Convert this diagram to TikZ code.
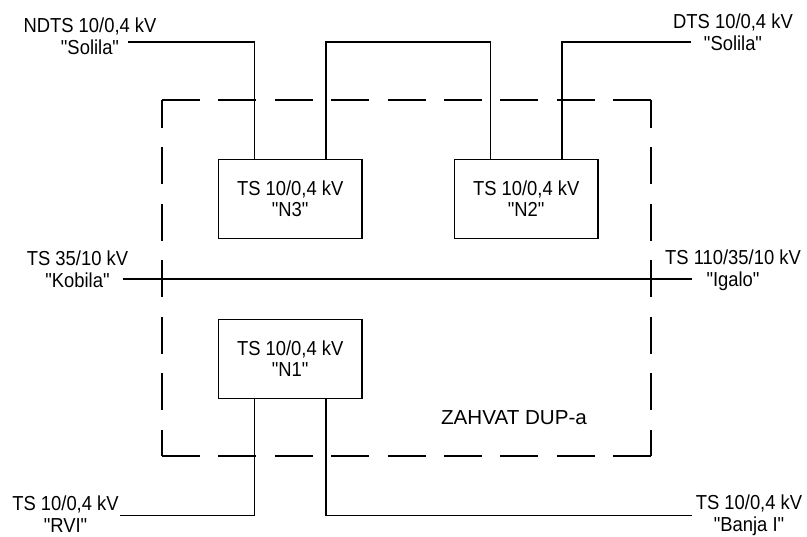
\documentclass[tikz,border=0pt]{standalone}
\usepackage{fontspec}
\setmainfont{Liberation Sans}[Ligatures=TeXOff]
\usepackage{graphicx}
\newcommand{\tl}[1]{\scalebox{1}[1.1]{#1}}
\begin{document}
\begin{tikzpicture}[x=0.75pt,y=-0.75pt,
  wire/.style={line width=1.1pt},
  zone/.style={line width=0.9pt},
  hzone/.style={zone, dash pattern=on 28.5pt off 13.8pt},
  vzone/.style={zone, dash pattern=on 27.75pt off 14.6pt, dash phase=6.75pt},
  station/.style={draw, line width=1.1pt, inner sep=0pt, outer sep=0pt,
    minimum width=107.8pt, minimum height=59.5pt, align=center,
    font=\fontsize{13.8}{15.75}\selectfont},
  lbl/.style={inner sep=0pt, align=center, font=\fontsize{13.8}{16.2}\selectfont}]
\useasboundingbox (0,0) rectangle (807,536);

% zone boundary
\draw[hzone] (162,100) -- (651,100);
\draw[hzone] (162,456) -- (651,456);
\draw[vzone] (162,100) -- (162,456);
\draw[vzone] (651,100) -- (651,456);
\node[lbl] (zone) at (514,417.5) {\scalebox{1.12}[1.1]{ZAHVAT DUP-a}};

% stations
\node[station] (n3) at (290.2,199) {\tl{TS 10/0,4 kV}\\\tl{"N3"}};
\node[station] (n2) at (526.2,199) {\tl{TS 10/0,4 kV}\\\tl{"N2"}};
\node[station] (n1) at (290.2,359) {\tl{TS 10/0,4 kV}\\\tl{"N1"}};

% outer labels
\node[lbl] (ndts) at (90,36.5) {\tl{NDTS 10/0,4 kV}\\\tl{"Solila"}};
\node[lbl] (dts) at (733,32.5) {\tl{DTS 10/0,4 kV}\\\tl{"Solila"}};
\node[lbl] (kob) at (77.5,269.5) {\tl{TS 35/10 kV}\\\tl{"Kobila"}};
\node[lbl] (iga) at (733,270) {\tl{TS 110/35/10 kV}\\\tl{"Igalo"}};
\node[lbl] (rvi) at (65.5,514) {\tl{TS 10/0,4 kV}\\\tl{"RVI"}};
\node[lbl] (ban) at (749,515) {\tl{TS 10/0,4 kV}\\\tl{"Banja I"}};

% wire ends at labels
\coordinate (ndtsend) at (127.7,42);
\coordinate (dtsend) at (690.7,42);
\coordinate (kobend) at (122.7,279);
\coordinate (igaend) at (691.7,279);
\coordinate (rviend) at (120,515.7);
\coordinate (banend) at (691.7,515.7);

% wires
\draw[wire] (ndtsend) -| ([xshift=-26.8pt]n3.north);
\draw[wire] ([xshift=26.8pt]n3.north) -- ++(0,-117.3) -| ([xshift=-26.8pt]n2.north);
\draw[wire] ([xshift=26.8pt]n2.north) |- (dtsend);
\draw[wire] (kobend) -- (igaend);
\draw[wire] ([xshift=-26.8pt]n1.south) |- (rviend);
\draw[wire] ([xshift=26.8pt]n1.south) |- (banend);
\end{tikzpicture}
\end{document}
